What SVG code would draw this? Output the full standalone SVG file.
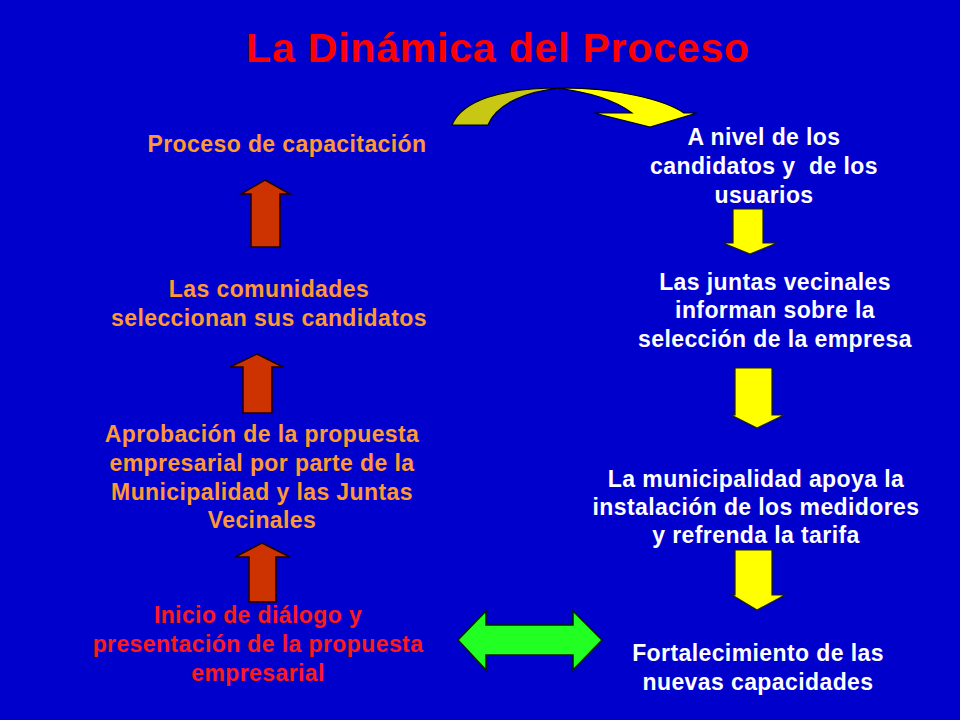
<svg xmlns="http://www.w3.org/2000/svg" width="960" height="720" viewBox="0 0 960 720">
<style>
.t{font-family:"Liberation Sans",Arial,sans-serif;font-weight:bold;font-size:23px;letter-spacing:0.4px;text-anchor:middle}
.o{fill:#ff9933}
.w{fill:#ffffff}
.r{fill:#ff1a1a}
.up{fill:#cc3300;stroke:#200000;stroke-width:1.5}
.dn{fill:#ffff00;stroke:#202000;stroke-width:1.2}
</style>
<rect x="0" y="0" width="960" height="720" fill="#0000cc"/>
<text x="498" y="62" class="t" style="font-size:41px;letter-spacing:0.8px;fill:#ff0000">La Dinámica del Proceso</text>

<g id="connectors">
<g id="curved-arrow">
<path d="M452,125 C462,101 500,88 560,88 C530,91 497,102 488,125 Z" fill="#c8c814" stroke="#000" stroke-width="1.2"/>
<path d="M556,88 C615,87 665,100 684,113 L697,113 L650,127 L594,113 L632,113 C615,100 590,92 556,88 Z" fill="#ffff00" stroke="#000" stroke-width="1.2"/>
</g>
<polygon class="up" points="265,180 290,194 280,194 280,247 251,247 251,194 241,194"/>
<polygon class="up" points="257,354 283,367 272,367 272,413 243,413 243,367 230,367"/>
<polygon class="up" points="262,543 290,557 276,557 276,602 249,602 249,557 235,557"/>
<polygon class="dn" points="733,209 763,209 763,243 777,243 750,254 723,243 733,243"/>
<polygon class="dn" points="735,368 772,368 772,415 784,415 757,428 731,415 735,415"/>
<polygon class="dn" points="735,550 772,550 772,595 785,595 757,610 732,595 735,595"/>
<polygon points="458,640 486,611 486,625 573,625 573,611 602,640 573,670 573,655 486,655 486,670" fill="#22ff22" stroke="#002000" stroke-width="1.5"/>
</g>

<g id="n-capacitacion"><text x="287" y="152" class="t o">Proceso de capacitación</text></g>
<g id="n-comunidades">
<text x="269" y="297" class="t o">Las comunidades</text>
<text x="269" y="326" class="t o">seleccionan sus candidatos</text>
</g>
<g id="n-aprobacion">
<text x="262" y="442" class="t o">Aprobación de la propuesta</text>
<text x="262" y="471" class="t o">empresarial por parte de la</text>
<text x="262" y="500" class="t o">Municipalidad y las Juntas</text>
<text x="262" y="528" class="t o">Vecinales</text>
</g>
<g id="n-inicio">
<text x="258" y="623" class="t r">Inicio de diálogo y</text>
<text x="258" y="652" class="t r">presentación de la propuesta</text>
<text x="258" y="681" class="t r">empresarial</text>
</g>
<g id="n-nivel">
<text x="764" y="145" class="t w">A nivel de los</text>
<text x="764" y="174" class="t w" xml:space="preserve">candidatos y  de los</text>
<text x="764" y="203" class="t w">usuarios</text>
</g>
<g id="n-juntas">
<text x="775" y="290" class="t w">Las juntas vecinales</text>
<text x="775" y="318" class="t w">informan sobre la</text>
<text x="775" y="347" class="t w">selección de la empresa</text>
</g>
<g id="n-municipalidad">
<text x="756" y="487" class="t w">La municipalidad apoya la</text>
<text x="756" y="515" class="t w">instalación de los medidores</text>
<text x="756" y="543" class="t w">y refrenda la tarifa</text>
</g>
<g id="n-fortalecimiento">
<text x="758" y="661" class="t w">Fortalecimiento de las</text>
<text x="758" y="690" class="t w">nuevas capacidades</text>
</g>
</svg>
